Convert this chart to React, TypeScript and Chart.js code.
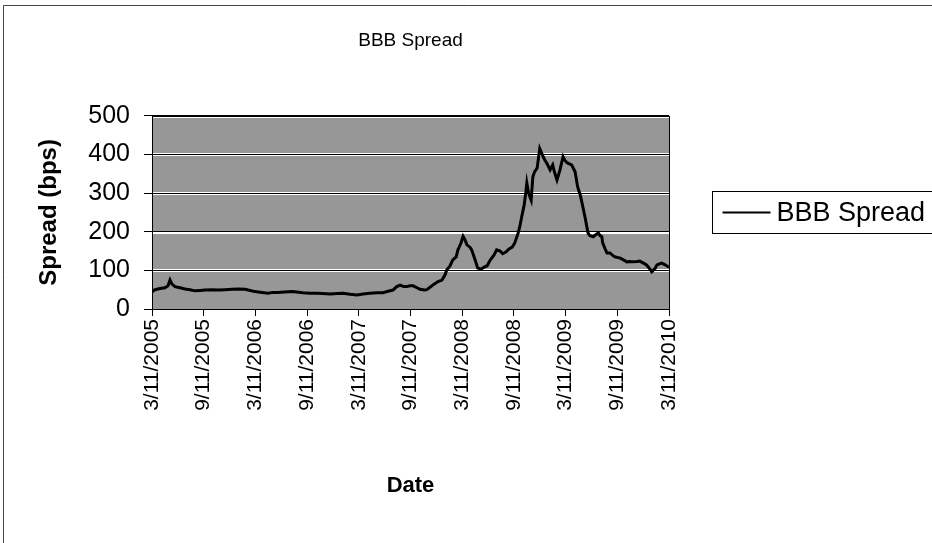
import React, { useEffect, useRef } from "react";
import { Chart, registerables } from "chart.js";

Chart.register(...registerables);

// ---- data ----
const chartTitle = "BBB Spread";
const seriesName = "BBB Spread";
const xAxisTitle = "Date";
const yAxisTitle = "Spread (bps)";
const xTickLabels = [
  "3/11/2005", "9/11/2005", "3/11/2006", "9/11/2006", "3/11/2007", "9/11/2007",
  "3/11/2008", "9/11/2008", "3/11/2009", "9/11/2009", "3/11/2010",
];
const monthsPerTick = 6;
const yMin = 0;
const yMax = 500;
const yStep = 100;

// months elapsed since 3/11/2005
const monthsSinceStart = [
  0.0, 0.35, 0.93, 1.5, 1.86, 2.09, 2.3, 2.67, 3.25, 3.83, 4.4, 5.0, 5.57, 6.15, 6.96, 7.66,
  8.47, 9.28, 9.98, 10.8, 11.4, 11.95, 12.77, 13.46, 14.04, 14.62, 15.4, 16.25, 16.8, 17.5,
  18.3, 19.15, 19.8, 20.66, 21.5, 22.17, 22.98, 23.8, 24.5, 25.3, 26.1, 26.8, 27.4, 27.97,
  28.4, 28.8, 29.2, 29.6, 29.9, 30.3, 30.75, 31.1, 31.6, 31.9, 32.3, 32.6, 33.2, 33.65, 34.0,
  34.2, 34.6, 34.9, 35.3, 35.5, 35.85, 36.1, 36.3, 36.55, 36.9, 37.1, 37.5, 37.8, 38.2, 38.5,
  38.9, 39.2, 39.7, 40.0, 40.4, 40.7, 41.1, 41.4, 41.8, 42.1, 42.5, 42.7, 42.9, 43.2, 43.4,
  43.5, 43.7, 44.0, 44.2, 44.4, 44.7, 45.0, 45.4, 45.6, 45.8, 46.2, 46.5, 46.7, 47.0, 47.35,
  47.7, 47.9, 48.2, 48.5, 48.7, 49.1, 49.4, 49.7, 49.9, 50.25, 50.6, 50.8, 51.2, 51.5, 51.8,
  52.0, 52.2, 52.3, 52.6, 52.8, 53.15, 53.4, 53.7, 54.1, 54.3, 54.8, 55.1, 55.5, 55.8, 56.3,
  56.6, 57.1, 57.4, 57.8, 58.0, 58.4, 58.6, 58.9, 59.15, 59.5, 60.0,
];
const spreadBps = [
  45, 50, 53, 55, 60, 75, 65, 58, 55, 52, 50, 47, 48, 49, 50, 49,
  50, 51, 52, 51, 48, 45, 43, 41, 43, 43, 44, 45, 44, 42,
  41, 41, 40, 39, 40, 41, 38, 36, 39, 41, 42, 42, 46, 49,
  58, 62, 58, 58, 60, 60, 55, 51, 49, 50, 57, 62, 71, 75, 88,
  101, 112, 127, 135, 153, 170, 188, 180, 166, 160, 153, 127, 106, 103, 108,
  112, 125, 140, 153, 150, 143, 148, 155, 160, 171, 197, 215, 238, 270, 305,
  326, 300, 282, 342, 355, 365, 415, 394, 385, 378, 360, 373, 355, 334, 360,
  394, 385, 378, 375, 373, 355, 316, 295, 275, 238, 197, 190, 187, 192, 197,
  190, 187, 171, 155, 145, 145, 140, 135, 133, 132, 126, 122, 123, 122, 123,
  124, 118, 114, 103, 96, 105, 114, 117, 119, 115, 108,
];

// ---- style ----
const FONT = "'Liberation Sans', Arial, Helvetica, sans-serif";
const Y_TICK_SIZE = 25;
const X_TICK_SIZE = 21;
const AXIS_TITLE_SIZE = 24;
const TITLE_SIZE = 19;
const LEGEND_SIZE = 27;
const PLOT_FILL = "#979797";

const decorPlugin = {
  id: "decor",
  beforeDraw(chart: any) {
    const { ctx, chartArea: a } = chart;
    ctx.save();
    ctx.fillStyle = "#ffffff";
    ctx.fillRect(0, 0, chart.width, chart.height);
    ctx.fillStyle = PLOT_FILL;
    ctx.fillRect(a.left, a.top, a.right - a.left, a.bottom - a.top);
    // white halo under gridlines
    const ys = chart.scales.y;
    ctx.strokeStyle = "#ffffff";
    ctx.lineWidth = 3;
    for (let v = yMin + yStep; v <= yMax; v += yStep) {
      const py = Math.round(ys.getPixelForValue(v)) + 0.5;
      ctx.beginPath();
      ctx.moveTo(a.left, py);
      ctx.lineTo(a.right, py);
      ctx.stroke();
    }
    // outer frame
    ctx.strokeStyle = "#444";
    ctx.lineWidth = 1;
    ctx.beginPath();
    ctx.moveTo(3.5, chart.height);
    ctx.lineTo(3.5, 5.5);
    ctx.lineTo(chart.width, 5.5);
    ctx.stroke();
    ctx.restore();
  },
  afterDraw(chart: any) {
    const { ctx, chartArea: a } = chart;
    ctx.save();
    // plot frame
    ctx.strokeStyle = "#000";
    ctx.lineWidth = 1;
    ctx.strokeRect(Math.round(a.left) + 0.5, Math.round(a.top) + 0.5, Math.round(a.right - a.left), Math.round(a.bottom - a.top));
    // legend
    const cy = Math.round((a.top + a.bottom) / 2) + 0.5;
    const bx = Math.round(a.right) + 43.5;
    ctx.strokeRect(bx, cy - 21, chart.width - bx + 10, 42);
    ctx.lineWidth = 2;
    ctx.beginPath();
    ctx.moveTo(bx + 10, cy);
    ctx.lineTo(bx + 58, cy);
    ctx.stroke();
    ctx.fillStyle = "#000";
    ctx.font = `${LEGEND_SIZE}px ${FONT}`;
    ctx.textBaseline = "middle";
    ctx.textAlign = "left";
    ctx.fillText(seriesName, bx + 64, cy + 1);
    ctx.restore();
  },
};

export default function App() {
  const ref = useRef<HTMLCanvasElement | null>(null);
  useEffect(() => {
    if (!ref.current) return;
    const points = monthsSinceStart.map((m, i) => ({ x: m, y: spreadBps[i] }));
    const chart = new Chart(ref.current, {
      type: "line",
      data: {
        datasets: [
          {
            label: seriesName,
            data: points,
            borderColor: "#000",
            borderWidth: 3,
            pointRadius: 0,
            tension: 0,
            fill: false,
          },
        ],
      },
      options: {
        responsive: false,
        animation: false,
        layout: { padding: { left: 0, right: 263, top: 0, bottom: 0 } },
        plugins: {
          legend: { display: false },
          tooltip: { enabled: false },
          title: {
            display: true,
            text: chartTitle,
            fullSize: false,
            color: "#000",
            font: { family: FONT, size: TITLE_SIZE, weight: "normal" },
            padding: { top: 29, bottom: 64 },
          },
        },
        scales: {
          x: {
            type: "linear",
            min: 0,
            max: (xTickLabels.length - 1) * monthsPerTick,
            afterFit: (s: any) => { s.height = 234; },
            afterBuildTicks: (s: any) => {
              s.ticks = xTickLabels.map((_, i) => ({ value: i * monthsPerTick }));
            },
            ticks: {
              autoSkip: false,
              minRotation: 90,
              maxRotation: 90,
              padding: 3,
              color: "#000",
              font: { family: FONT, size: X_TICK_SIZE },
              callback: (v: any) => xTickLabels[Math.round(Number(v) / monthsPerTick)] ?? "",
            },
            grid: { drawOnChartArea: false, drawTicks: true, tickLength: 7, color: "#000" },
            border: { display: true, color: "#000", width: 1 },
            title: {
              display: true,
              text: xAxisTitle,
              color: "#000",
              font: { family: FONT, size: 22, weight: "bold" },
              padding: { top: 0, bottom: 44 },
            },
          },
          y: {
            min: yMin,
            max: yMax,
            afterFit: (s: any) => { s.width = 152; },
            ticks: {
              stepSize: yStep,
              padding: 14,
              color: "#000",
              font: { family: FONT, size: Y_TICK_SIZE },
            },
            grid: { color: "#000", lineWidth: 1, tickLength: 8 },
            border: { display: true, color: "#000", width: 1 },
            title: {
              display: true,
              text: yAxisTitle,
              color: "#000",
              font: { family: FONT, size: AXIS_TITLE_SIZE, weight: "bold" },
              padding: { top: 35, bottom: 0 },
            },
          },
        },
      },
      plugins: [decorPlugin],
    });
    return () => chart.destroy();
  }, []);

  return (
    <div style={{ position: "fixed", left: 0, top: 0, width: 932, height: 543, background: "#fff" }}>
      <canvas ref={ref} width={932} height={543} style={{ display: "block", width: 932, height: 543 }} />
    </div>
  );
}
